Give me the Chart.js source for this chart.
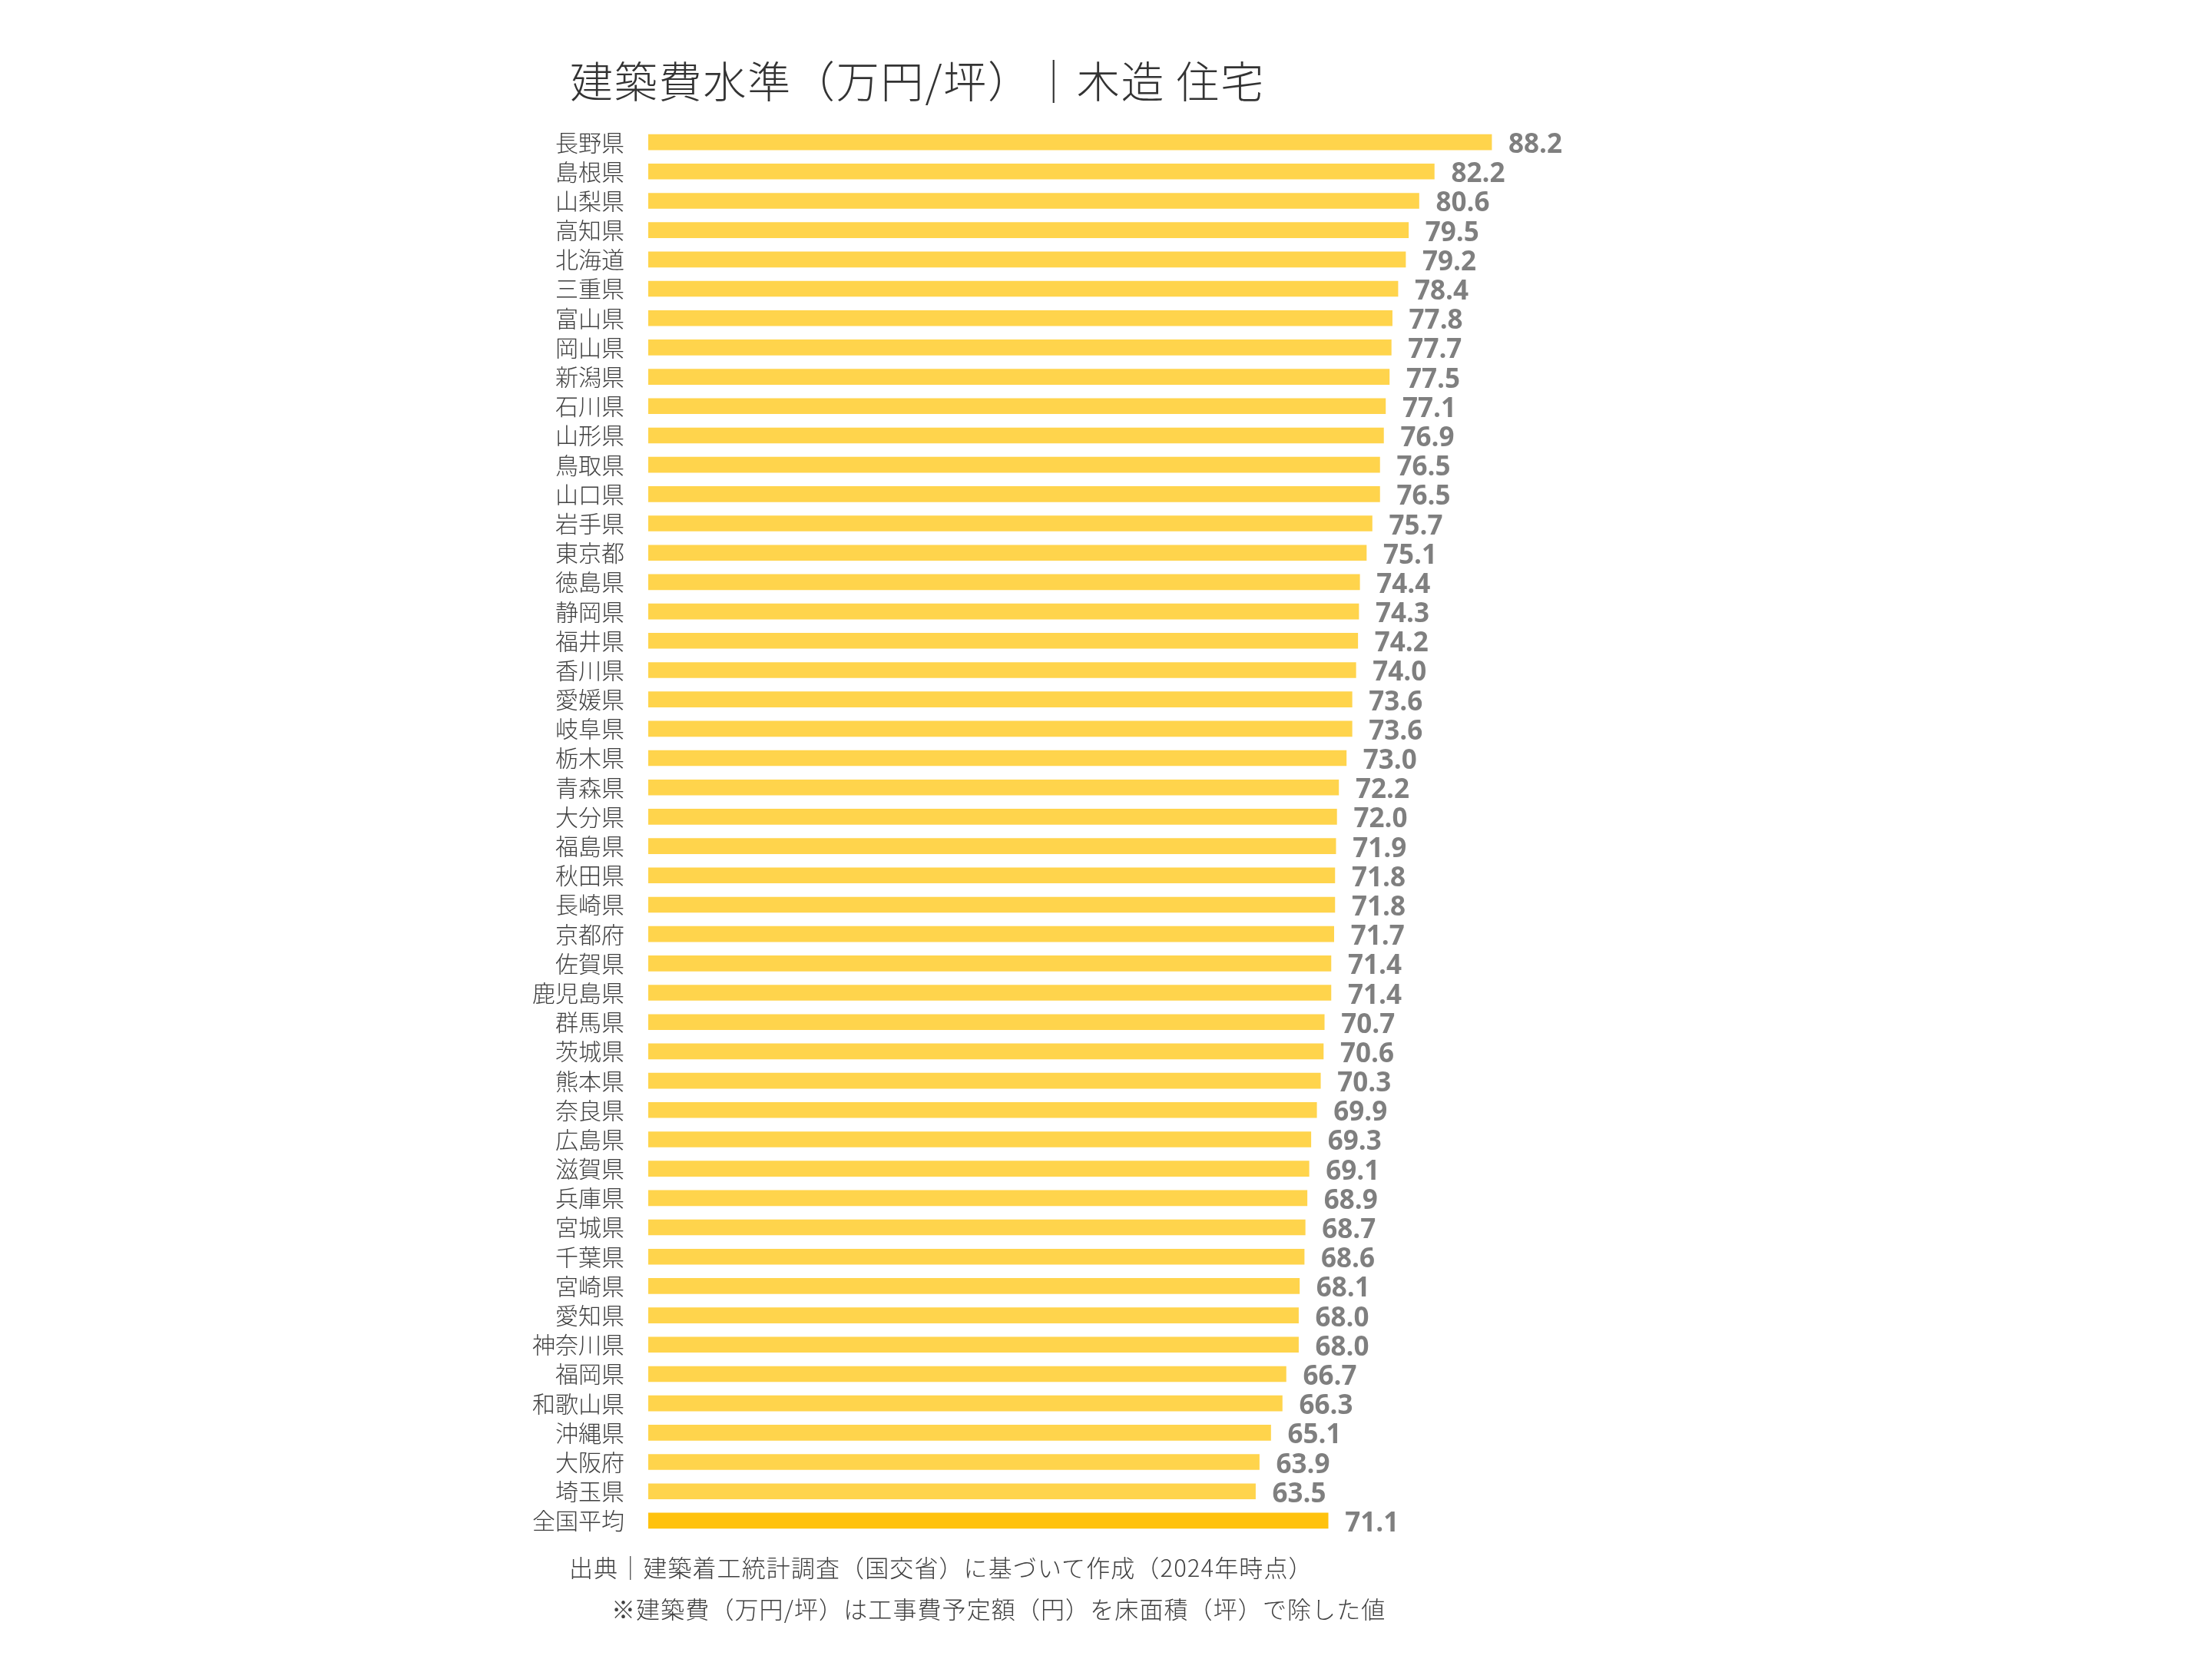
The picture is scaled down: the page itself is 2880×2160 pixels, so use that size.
<!DOCTYPE html>
<html>
<head>
<meta charset="utf-8">
<script src="https://cdn.jsdelivr.net/npm/chart.js@4.4.1/dist/chart.umd.min.js"></script>
<style>
  html, body { margin: 0; padding: 0; background: #ffffff; }
  #wrap { position: absolute; left: 0; top: 0; width: 2880px; height: 2160px; }
  .txt { position: absolute; white-space: nowrap; font-family: "Noto Sans CJK JP", sans-serif; font-weight: 300; color: #404040; line-height: 1; }
  #title { left: 742px; top: 75px; font-size: 56px; letter-spacing: 1.8px; color: #333333; }
  #note1 { left: 741px; top: 2024px; font-size: 31px; letter-spacing: 1.1px; }
  #note2 { left: 796px; top: 2078px; font-size: 31px; letter-spacing: 1.1px; }
</style>
</head>
<body>
<div id="wrap"><canvas id="c" width="2880" height="2160"></canvas></div>
<div class="txt" id="title">建築費水準（万円/坪）｜木造 住宅</div>
<div class="txt" id="note1">出典｜建築着工統計調査（国交省）に基づいて作成（2024年時点）</div>
<div class="txt" id="note2">※建築費（万円/坪）は工事費予定額（円）を床面積（坪）で除した値</div>
<script>
const categories = ["長野県","島根県","山梨県","高知県","北海道","三重県","富山県","岡山県","新潟県","石川県","山形県","鳥取県","山口県","岩手県","東京都","徳島県","静岡県","福井県","香川県","愛媛県","岐阜県","栃木県","青森県","大分県","福島県","秋田県","長崎県","京都府","佐賀県","鹿児島県","群馬県","茨城県","熊本県","奈良県","広島県","滋賀県","兵庫県","宮城県","千葉県","宮崎県","愛知県","神奈川県","福岡県","和歌山県","沖縄県","大阪府","埼玉県","全国平均"];
const values = [88.2,82.2,80.6,79.5,79.2,78.4,77.8,77.7,77.5,77.1,76.9,76.5,76.5,75.7,75.1,74.4,74.3,74.2,74.0,73.6,73.6,73.0,72.2,72.0,71.9,71.8,71.8,71.7,71.4,71.4,70.7,70.6,70.3,69.9,69.3,69.1,68.9,68.7,68.6,68.1,68.0,68.0,66.7,66.3,65.1,63.9,63.5,71.1];
const averageLabel = "全国平均";
const prefColor = "#FFD44C";
const avgColor = "#FFC20E";

const barColors = categories.map(c => c === averageLabel ? avgColor : prefColor);

const valueLabels = {
  id: 'valueLabels',
  afterDatasetsDraw(chart) {
    const ctx = chart.ctx;
    const meta = chart.getDatasetMeta(0);
    ctx.save();
    ctx.font = 'bold 35px "Open Sans", sans-serif';
    ctx.fillStyle = '#7F7F7F';
    ctx.textAlign = 'left';
    ctx.textBaseline = 'middle';
    meta.data.forEach((bar, i) => {
      ctx.fillText(values[i].toFixed(1), bar.x + 22, bar.y + 4);
    });
    ctx.restore();
  }
};

new Chart(document.getElementById('c'), {
  type: 'bar',
  data: {
    labels: categories,
    datasets: [{
      data: values,
      backgroundColor: barColors,
      borderWidth: 0,
      barThickness: 20
    }]
  },
  options: {
    indexAxis: 'y',
    responsive: false,
    animation: false,
    devicePixelRatio: 1,
    layout: { padding: { left: 0, top: 166, bottom: 161, right: 791 } },
    plugins: { legend: { display: false }, tooltip: { enabled: false }, title: { display: false } },
    scales: {
      x: {
        min: 0, max: 100,
        display: false,
        grid: { display: false }
      },
      y: {
        afterFit(scale) { scale.width = 844; },
        grid: { display: false, drawTicks: false },
        border: { display: false },
        ticks: {
          padding: 31,
          autoSkip: false,
          color: '#404040',
          font: { family: '"Noto Sans CJK JP", sans-serif', size: 30, weight: 300 }
        }
      }
    }
  },
  plugins: [valueLabels]
});
</script>
</body>
</html>
